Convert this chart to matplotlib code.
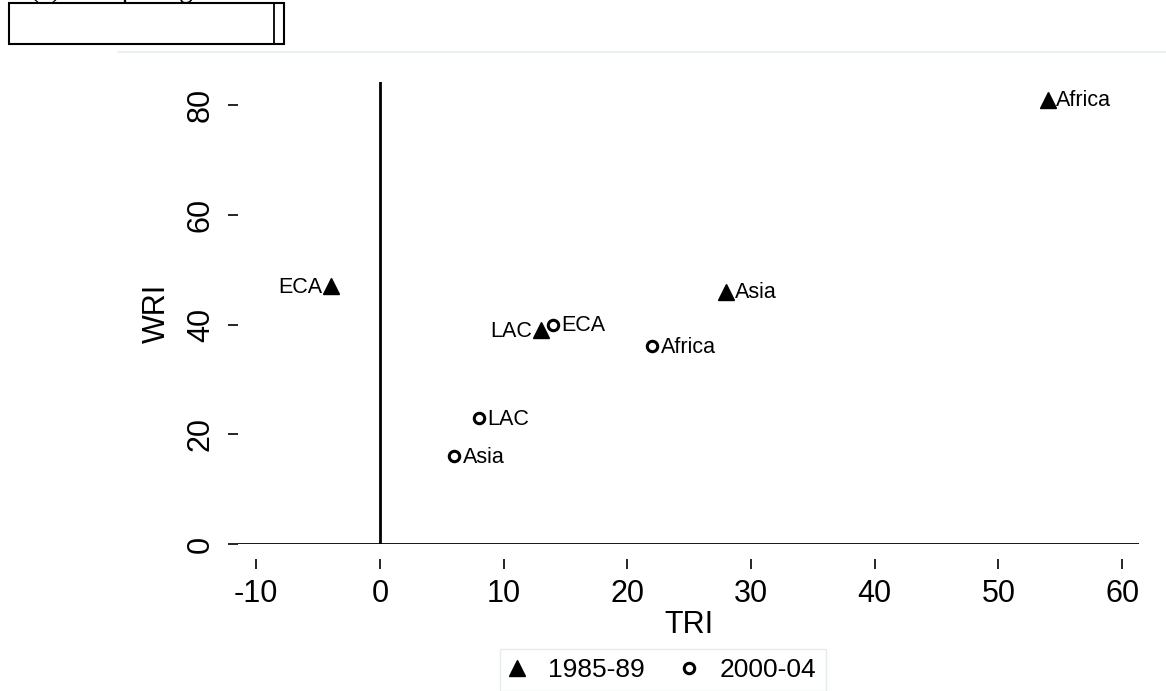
import matplotlib
matplotlib.use("Agg")
import matplotlib.pyplot as plt
from matplotlib.lines import Line2D
from matplotlib.patches import Rectangle

plt.rcParams['font.family'] = ['Liberation Sans', 'DejaVu Sans']

# 1985-89 (triangles)
regions_8589 = ['Africa', 'Asia', 'ECA', 'LAC']
tri_8589 = [54, 28, -4, 13]
wri_8589 = [81, 46, 47, 39]
side_8589 = ['right', 'right', 'left', 'left']

# 2000-04 (hollow circles)
regions_0004 = ['Africa', 'Asia', 'ECA', 'LAC']
tri_0004 = [22, 6, 14, 8]
wri_0004 = [36, 16, 40, 23]
side_0004 = ['right', 'right', 'right', 'right']

xticks = [-10, 0, 10, 20, 30, 40, 50, 60]
yticks = [0, 20, 40, 60, 80]

W, H = 1166, 691
fig = plt.figure(figsize=(W / 100, H / 100), dpi=100)
ax = fig.add_axes([238 / W, 1 - 544 / H, (1139 - 238) / W, (544 - 82) / H])

ax.axhline(0, color='black', lw=2, zorder=1)
ax.axvline(0, color='black', lw=2, zorder=1)

ax.plot(tri_8589, wri_8589, ls='none', marker='^', ms=12, color='black',
        label='1985-89', clip_on=False, zorder=3)
ax.plot(tri_0004, wri_0004, ls='none', marker='o', ms=7.5, mfc='white',
        mec='black', mew=2.2, label='2000-04', clip_on=False, zorder=3)

for xs, ys, names, sides in [(tri_8589, wri_8589, regions_8589, side_8589),
                             (tri_0004, wri_0004, regions_0004, side_0004)]:
    for x, y, n, s in zip(xs, ys, names, sides):
        off = 6 if s == 'right' else -6
        ha = 'left' if s == 'right' else 'right'
        ax.annotate(n, (x, y), xytext=(off, -1), textcoords='offset points',
                    ha=ha, va='center', fontsize=15.5)

ax.set_xlim(-11.48, 61.36)
ax.set_ylim(0, 84.2)
ax.set_xticks(xticks)
ax.set_yticks(yticks)
ax.set_xticklabels([str(v) for v in xticks])
ax.set_yticklabels([str(v) for v in yticks], rotation=90, va='center')
for sp in ax.spines.values():
    sp.set_visible(False)
ax.spines['bottom'].set_position(('outward', 11))
ax.tick_params(axis='x', length=7, width=1.2, pad=7, labelsize=22, colors='black')
ax.tick_params(axis='y', length=7, width=1.2, pad=9, labelsize=22)
ax.set_xlabel('TRI', fontsize=22, labelpad=1)
ax.set_ylabel('WRI', fontsize=22, labelpad=10)

leg = fig.legend(loc='upper center', bbox_to_anchor=(663 / W, 1 - 649 / H),
                 ncol=2, fontsize=19, frameon=True, fancybox=False,
                 handletextpad=0.85, columnspacing=1.4, borderpad=0.35,
                 borderaxespad=0, handlelength=0.6)
leg.get_frame().set_edgecolor('#dde8ea')
leg.get_frame().set_linewidth(1.0)

# top decorations from the page
fig.add_artist(Line2D([118 / W, 1.0], [1 - 52 / H] * 2, color='#e4eef0', lw=1.2))
fig.add_artist(Rectangle((9 / W, 1 - 44 / H), (284 - 9) / W, 41 / H,
                         fill=False, edgecolor='black', lw=1.5))
fig.add_artist(Line2D([274 / W] * 2, [1 - 44 / H, 1 - 3 / H], color='black', lw=1.3))
fig.text(30 / W, 1 + 10 / H, '(a) Comparing', fontsize=20, family='Liberation Serif',
         va='center', ha='left')

fig.savefig('out.png', dpi=100)
